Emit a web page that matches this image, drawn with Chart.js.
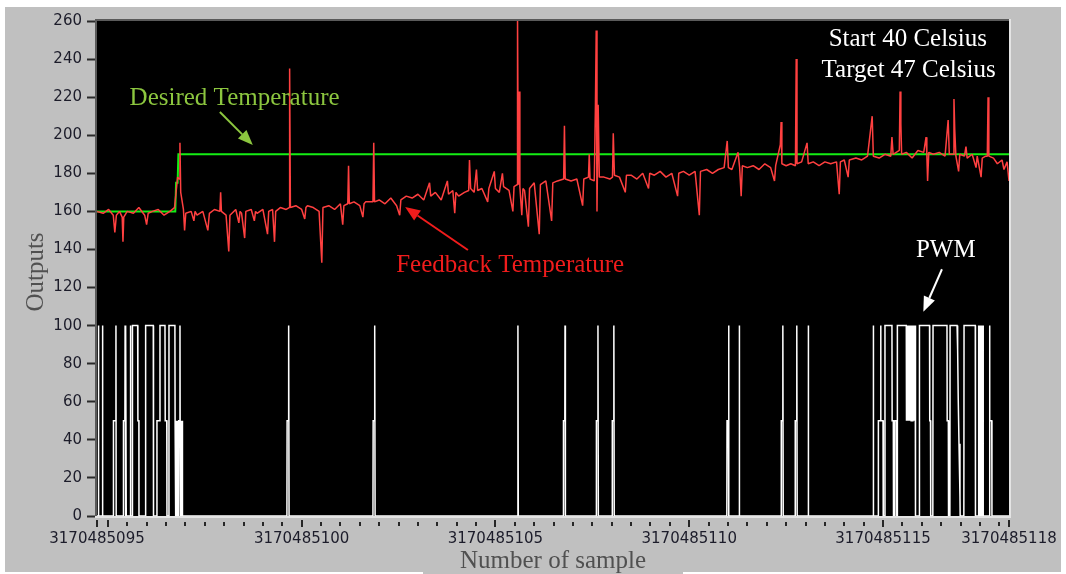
<!DOCTYPE html>
<html>
<head>
<meta charset="utf-8">
<script src="https://cdn.jsdelivr.net/npm/chart.js@4.4.0/dist/chart.umd.min.js"></script>
<style>
html,body{margin:0;padding:0;background:#fff;}
canvas{display:block;}
</style>
</head>
<body>
<canvas id="myChart" width="1066" height="574"></canvas>
<script>
// sample times are seconds after 3170485095
var timeBase = 3170485095;
var xMin = -0.28, xMax = 23.25;
var xMajorTicks = [-0.28, 0, 5, 10, 15, 20, 23.25];
var xTickLabels = ['3170485095', '', '3170485100', '3170485105', '3170485110', '3170485115', '3170485118'];
var yTicks = [0, 20, 40, 60, 80, 100, 120, 140, 160, 180, 200, 220, 240, 260];

var desired = [[-0.28,160],[1.74,160],[1.76,175],[1.80,175],[1.82,190],[23.25,190]];

var feedback = [
  [-0.28,160],[-0.12,159],[0.02,161],[0.14,158],[0.18,149],[0.22,158],[0.3,160],[0.37,157],[0.39,144],[0.41,157],
  [0.5,160],[0.66,159],[0.8,162],[0.95,158],[1.0,153],[1.04,159],[1.15,160],[1.3,161],[1.45,158],[1.6,160],
  [1.72,162],[1.76,170],[1.80,178],[1.84,177],[1.86,196],[1.88,170],[1.95,161],[1.98,150],[2.01,159],[2.15,160],
  [2.22,155],[2.25,160],[2.3,158],[2.45,160],[2.58,150],[2.62,159],[2.75,161],[2.89,160],[2.91,170],[2.93,160],
  [3.05,158],[3.12,139],[3.15,158],[3.3,161],[3.38,154],[3.41,160],[3.45,159],[3.53,146],[3.56,160],[3.7,161],
  [3.78,155],[3.81,160],[3.85,159],[4.0,161],[4.12,148],[4.15,160],[4.25,161],[4.30,144],[4.33,160],[4.45,162],
  [4.6,161],[4.68,162],[4.69,235],[4.71,162],[4.85,163],[5.0,161],[5.08,156],[5.11,162],
  [5.15,163],[5.3,162],[5.45,160],[5.52,133],[5.55,162],[5.7,163],[5.85,161],[6.0,164],[6.06,153],[6.09,163],
  [6.19,164],[6.21,184],[6.23,164],[6.35,165],[6.5,163],[6.58,157],[6.61,164],[6.65,165],[6.84,165],[6.86,196],[6.88,165],[7.0,166],
  [7.15,164],[7.3,167],[7.45,163],[7.53,158],[7.56,166],[7.7,168],[7.85,167],[8.0,169],[8.15,166],[8.3,175],
  [8.33,168],[8.45,170],[8.6,166],[8.76,176],[8.79,169],[8.9,171],[8.95,159],[8.98,170],[9.05,168],[9.2,170],
  [9.31,171],[9.33,187],[9.36,172],[9.45,170],[9.51,182],[9.54,171],[9.65,172],[9.8,165],[9.83,172],[9.97,181],
  [10.0,172],[10.1,170],[10.18,180],[10.21,173],[10.35,171],[10.45,160],[10.48,173],[10.56,174],[10.57,262],[10.59,174],
  [10.61,223],[10.63,173],[10.68,158],[10.71,172],[10.75,171],[10.85,152],[10.88,172],[11.0,175],[11.13,148],[11.16,174],
  [11.3,176],[11.45,155],[11.48,175],[11.6,176],[11.76,177],[11.78,205],[11.80,177],[11.95,176],[12.1,177],[12.25,163],
  [12.28,177],[12.4,178],[12.42,190],[12.44,177],[12.55,176],[12.58,216],[12.60,255],[12.62,160],[12.65,216],[12.68,178],
  [12.8,178],[12.95,177],[13.02,178],[13.04,201],[13.07,179],[13.2,178],[13.35,170],[13.38,179],[13.5,179],[13.65,177],
  [13.8,180],[13.95,172],[13.98,180],[14.1,179],[14.25,181],[14.4,178],[14.55,180],[14.7,168],[14.73,180],[14.85,181],
  [15.0,179],[15.15,181],[15.26,158],[15.29,181],[15.45,182],[15.6,180],[15.75,182],[15.9,183],[15.98,197],[16.01,183],
  [16.1,182],[16.26,191],[16.3,183],[16.34,168],[16.37,184],[16.5,183],[16.65,184],[16.8,182],[16.95,185],[17.1,183],
  [17.2,176],[17.23,184],[17.35,195],[17.37,207],[17.39,185],[17.5,184],[17.62,185],[17.74,184],[17.76,240],[17.78,185],
  [17.9,186],[18.04,196],[18.07,185],[18.2,186],[18.35,184],[18.5,186],[18.65,185],[18.8,186],[18.87,169],[18.9,186],
  [19.0,187],[19.1,178],[19.13,187],[19.3,188],[19.45,187],[19.6,189],[19.72,210],[19.75,189],[19.9,188],[20.05,190],
  [20.2,189],[20.23,199],[20.26,190],[20.42,192],[20.44,223],[20.46,206],[20.48,190],[20.6,191],[20.75,188],[20.9,192],
  [21.05,191],[21.11,199],[21.13,190],[21.15,176],[21.18,191],[21.3,190],[21.45,191],[21.6,189],[21.68,208],[21.71,190],
  [21.81,190],[21.83,219],[21.85,203],[21.88,189],[21.95,181],[21.98,190],[22.1,189],[22.14,194],[22.17,188],[22.3,190],
  [22.4,183],[22.43,189],[22.53,178],[22.56,188],[22.65,189],[22.69,189],[22.71,220],[22.73,189],[22.85,188],[22.95,185],
  [23.07,187],[23.12,182],[23.2,186],[23.25,176]
];

var pwm = [
  [-0.28,0],[-0.25,0],[-0.243,100],[-0.235,0],[-0.145,0],[-0.139,100],[-0.13,0],
  [0.14,0],[0.145,50],[0.205,50],[0.209,100],[0.215,0],
  [0.40,0],[0.403,50],[0.44,50],[0.445,100],[0.45,0],[0.46,0],[0.467,100],[0.475,0],
  [0.578,0],[0.583,100],[0.59,0],[0.63,0],[0.635,100],[0.769,100],[0.775,50],[0.80,50],[0.803,0],
  [0.97,0],[0.975,100],[1.172,100],[1.178,0],
  [1.26,0],[1.267,50],[1.34,50],[1.345,100],[1.474,100],[1.48,50],[1.52,50],[1.525,0],
  [1.57,0],[1.577,100],[1.73,100],[1.735,50],[1.75,0],[1.76,50],[1.775,0],[1.785,50],[1.80,0],[1.81,50],
  [1.825,0],[1.835,50],[1.855,50],[1.861,100],[1.865,50],[1.88,0],[1.89,50],[1.905,0],[1.915,50],[1.925,0],
  [4.62,0],[4.625,50],[4.66,50],[4.665,100],[4.675,0],
  [6.84,0],[6.845,50],[6.88,50],[6.885,100],[6.895,0],
  [10.575,0],[10.58,100],[10.59,0],
  [11.75,0],[11.755,50],[11.79,50],[11.795,100],[11.805,0],
  [12.6,0],[12.605,50],[12.64,50],[12.645,100],[12.655,0],
  [13.01,0],[13.015,50],[13.05,50],[13.055,100],[13.065,0],
  [15.97,0],[15.975,50],[16.01,50],[16.015,100],[16.025,0],
  [16.285,0],[16.29,100],[16.3,0],
  [17.37,0],[17.375,50],[17.41,50],[17.415,100],[17.425,0],
  [17.73,0],[17.735,50],[17.77,50],[17.775,100],[17.785,0],
  [18.065,0],[18.07,100],[18.08,0],
  [19.745,0],[19.75,100],[19.755,0],
  [19.875,0],[19.88,50],[19.935,50],[19.94,100],[19.945,50],[20.0,50],[20.005,0],
  [20.045,0],[20.05,100],[20.23,100],[20.235,50],[20.265,50],[20.27,0],[20.30,0],[20.305,50],[20.35,50],[20.355,0],
  [20.365,0],[20.37,100],[20.60,100],[20.605,50],[20.62,100],[20.635,50],[20.65,100],[20.665,50],[20.68,100],
  [20.695,50],[20.71,100],[20.725,50],[20.74,100],[20.755,50],[20.77,100],[20.785,50],[20.80,100],[20.815,50],
  [20.83,100],[20.835,50],[20.84,0],
  [20.935,0],[20.94,100],[21.20,100],[21.205,50],[21.225,50],[21.23,0],
  [21.285,0],[21.29,100],[21.65,100],[21.655,50],[21.685,50],[21.69,0],
  [21.725,0],[21.73,100],[21.91,100],[21.925,87],[21.94,62],[21.96,38],[21.985,10],[21.99,0],
  [22.085,0],[22.09,100],[22.38,100],[22.385,0],
  [22.455,0],[22.46,100],[22.475,0],[22.49,100],[22.505,0],[22.52,100],[22.535,0],[22.55,100],[22.565,0],[22.58,100],[22.585,0],
  [22.745,0],[22.75,100],[22.755,50],[22.805,50],[22.81,0],
  [23.25,0]
];

var serif = '25px "Liberation Serif", "Times New Roman", serif';

function arrow(ctx, x1, y1, x2, y2, color) {
  var ang = Math.atan2(y2 - y1, x2 - x1), hl = 15, hw = 6;
  var bx = x2 - hl * Math.cos(ang), by = y2 - hl * Math.sin(ang);
  ctx.strokeStyle = color; ctx.fillStyle = color; ctx.lineWidth = 2;
  ctx.beginPath(); ctx.moveTo(x1, y1); ctx.lineTo(bx, by); ctx.stroke();
  ctx.beginPath();
  ctx.moveTo(x2, y2);
  ctx.lineTo(bx + hw * Math.sin(ang), by - hw * Math.cos(ang));
  ctx.lineTo(bx - hw * Math.sin(ang), by + hw * Math.cos(ang));
  ctx.closePath(); ctx.fill();
}

var panelPlugin = {
  id: 'panel',
  beforeDraw: function(chart) {
    var ctx = chart.ctx, a = chart.chartArea;
    ctx.save();
    ctx.fillStyle = '#ffffff';
    ctx.fillRect(0, 0, chart.width, chart.height);
    ctx.fillStyle = '#c0c0c0';
    ctx.fillRect(5, 7, 1056, 565);
    ctx.fillRect(423, 560, 260, 14);
    ctx.fillStyle = '#000000';
    ctx.fillRect(a.left, a.top, a.right - a.left, a.bottom - a.top);
    ctx.restore();
  },
  afterDraw: function(chart) {
    var ctx = chart.ctx, a = chart.chartArea;
    var xs = chart.scales.x, ys = chart.scales.y;
    var X = function(t) { return xs.getPixelForValue(t); };
    var Y = function(v) { return ys.getPixelForValue(v); };
    ctx.save();
    // sunken frame of the plot
    ctx.fillStyle = '#5a5a5a';
    ctx.fillRect(a.left - 2, a.top - 2, a.right - a.left + 4, 2);
    ctx.fillRect(a.left - 2, a.top - 2, 2, a.bottom - a.top + 4);
    ctx.fillStyle = '#e4e4e4';
    ctx.fillRect(a.left - 2, a.bottom, a.right - a.left + 4, 2);
    ctx.fillRect(a.right, a.top - 2, 2, a.bottom - a.top + 4);

    // x tick marks
    ctx.fillStyle = '#262626';
    xMajorTicks.forEach(function(t) { ctx.fillRect(Math.round(X(t)) - 1, a.bottom + 4, 2, 7); });
    for (var t = 0.5; t < xMax; t += 0.5) {
      if (t % 5 === 0) continue;
      ctx.fillRect(Math.round(X(t)) - 1, a.bottom + 6, 2, 4);
    }

    // axis titles
    ctx.font = serif;
    ctx.fillStyle = '#505050';
    ctx.textAlign = 'center';
    ctx.textBaseline = 'alphabetic';
    ctx.fillText('Number of sample', 553, 568);
    ctx.save();
    ctx.translate(43, 272);
    ctx.rotate(-Math.PI / 2);
    ctx.fillText('Outputs', 0, 0);
    ctx.restore();

    // notes on the plot
    ctx.fillStyle = '#8cc63f';
    ctx.fillText('Desired Temperature', X(3.27), Y(215.9));
    arrow(ctx, X(2.89), Y(212.2), X(3.74), Y(194.9), '#8cc63f');

    ctx.fillStyle = '#f01c1c';
    ctx.fillText('Feedback Temperature', X(10.38), Y(128.2));
    arrow(ctx, X(9.29), Y(139.7), X(7.67), Y(162.3), '#f01c1c');

    ctx.fillStyle = '#ffffff';
    ctx.fillText('Start 40 Celsius', X(20.64), Y(247.0));
    ctx.fillText('Target 47 Celsius', X(20.66), Y(230.7));
    ctx.fillText('PWM', X(21.62), Y(136.2));
    arrow(ctx, X(21.52), Y(129.6), X(21.04), Y(107.3), '#ffffff');
    ctx.restore();
  }
};

var tickFont = { family: 'DejaVu Sans', size: 15 };

const config = {
  type: 'line',
  data: {
    datasets: [{
      label: 'Feedback Temperature',
      data: feedback,
      borderColor: '#ff4040',
      borderWidth: 1.5,
      borderJoinStyle: 'bevel',
      pointRadius: 0
    }, {
      label: 'Desired Temperature',
      data: desired,
      borderColor: '#14ee14',
      borderWidth: 2,
      pointRadius: 0
    }, {
      label: 'PWM',
      data: pwm,
      borderColor: '#ffffff',
      borderWidth: 1.5,
      borderJoinStyle: 'miter',
      pointRadius: 0
    }]
  },
  options: {
    responsive: false,
    animation: false,
    devicePixelRatio: 1,
    layout: { padding: { top: 21, right: 57, left: 0, bottom: 0 } },
    plugins: {
      legend: { display: false },
      tooltip: { enabled: false }
    },
    scales: {
      x: {
        type: 'linear',
        min: xMin,
        max: xMax,
        grid: { display: false, drawTicks: false },
        border: { display: false },
        afterBuildTicks: function(s) { s.ticks = xMajorTicks.map(function(v) { return { value: v }; }); },
        afterFit: function(s) { s.height = 58; s.paddingLeft = 0; s.paddingRight = 0; },
        ticks: {
          autoSkip: false,
          maxRotation: 0,
          padding: 14,
          color: '#1c1c2a',
          font: tickFont,
          callback: function(v, i) { return xTickLabels[i]; }
        }
      },
      y: {
        min: 0,
        max: 260,
        afterBuildTicks: function(s) { s.ticks = yTicks.map(function(v) { return { value: v }; }); },
        afterFit: function(s) { s.width = 97; },
        grid: { drawOnChartArea: false, tickLength: 10, tickWidth: 2, tickColor: '#2a2a2a' },
        border: { display: false },
        ticks: { padding: 5, color: '#1c1c2a', font: tickFont }
      }
    }
  },
  plugins: [panelPlugin]
};

var myChart = new Chart(document.getElementById('myChart'), config);
</script>
</body>
</html>
